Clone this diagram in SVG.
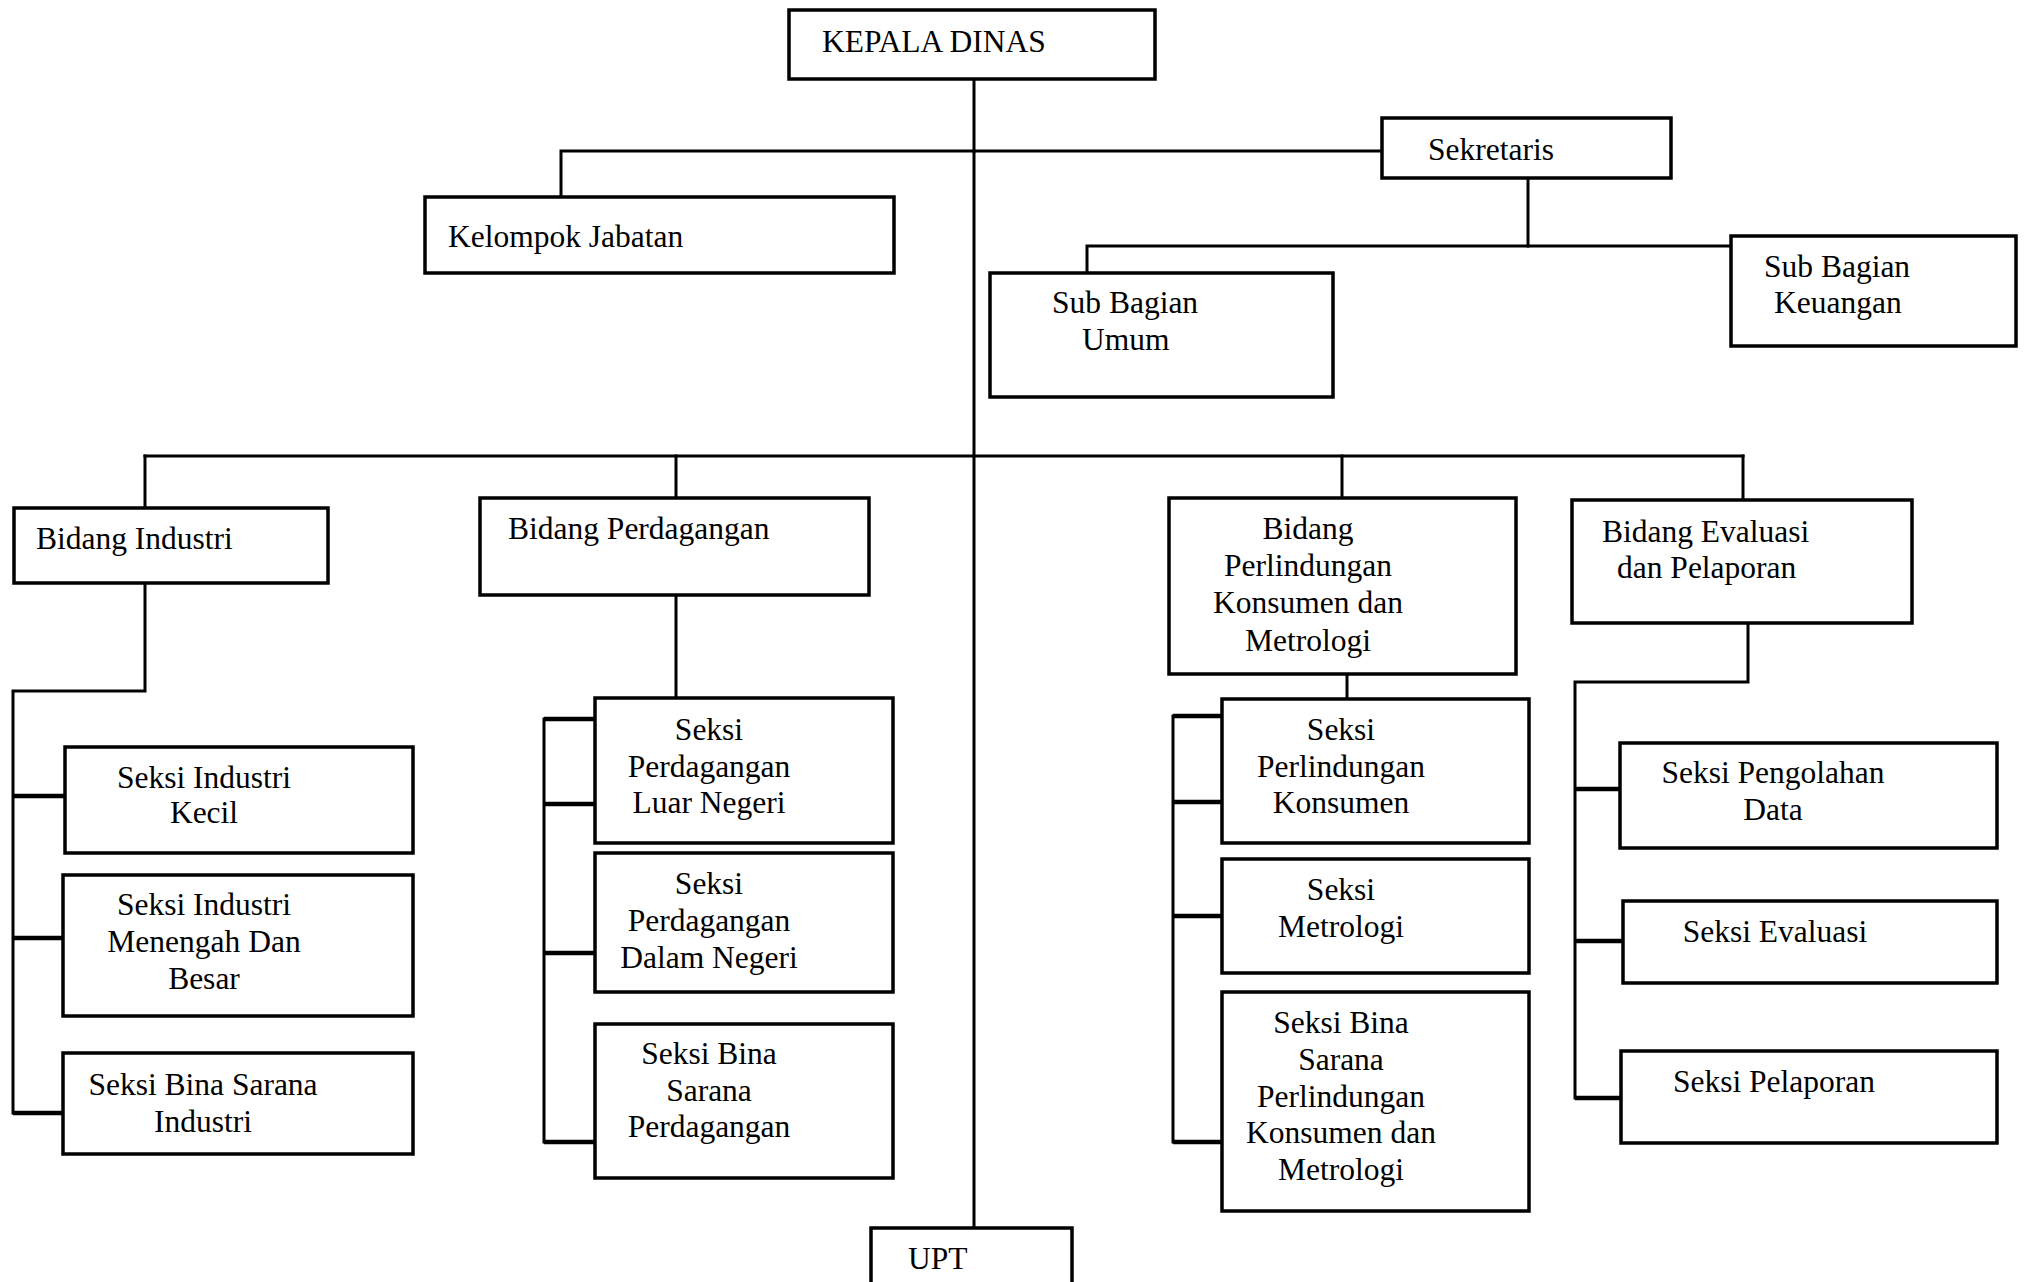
<svg xmlns="http://www.w3.org/2000/svg" width="2026" height="1282" viewBox="0 0 2026 1282">
<style>
.box{fill:#fff;stroke:#000;stroke-width:3.5}
.ln{fill:none;stroke:#000;stroke-width:3;stroke-linecap:square}
.stub{fill:none;stroke:#000;stroke-width:4.5}
text{font-family:"Liberation Serif","Times New Roman",serif;font-size:31.5px;fill:#000}
.c{text-anchor:middle}
</style>
<rect width="2026" height="1282" fill="#fff"/>
<g id="connectors">
<line class="ln" x1="974" y1="79" x2="974" y2="1228"/>
<polyline class="ln" points="974,151 561,151 561,197"/>
<line class="ln" x1="974" y1="151" x2="1382" y2="151"/>
<line class="ln" x1="1528" y1="178" x2="1528" y2="246"/>
<polyline class="ln" points="1731,246 1087,246 1087,273"/>
<line class="ln" x1="145" y1="456" x2="1743" y2="456"/>
<line class="ln" x1="145" y1="456" x2="145" y2="508"/>
<line class="ln" x1="676" y1="456" x2="676" y2="498"/>
<line class="ln" x1="1342" y1="456" x2="1342" y2="498"/>
<line class="ln" x1="1743" y1="456" x2="1743" y2="500"/>
<polyline class="ln" points="145,583 145,691 13,691 13,1113"/>
<line class="stub" x1="13" y1="1113" x2="63" y2="1113"/>
<line class="stub" x1="13" y1="796" x2="65" y2="796"/>
<line class="stub" x1="13" y1="938" x2="63" y2="938"/>
<line class="ln" x1="676" y1="595" x2="676" y2="698"/>
<line class="ln" x1="544" y1="719" x2="544" y2="1142"/>
<line class="stub" x1="544" y1="719" x2="595" y2="719"/>
<line class="stub" x1="544" y1="804" x2="595" y2="804"/>
<line class="stub" x1="544" y1="953" x2="595" y2="953"/>
<line class="stub" x1="544" y1="1142" x2="595" y2="1142"/>
<line class="ln" x1="1347" y1="674" x2="1347" y2="699"/>
<line class="ln" x1="1173" y1="716" x2="1173" y2="1142"/>
<line class="stub" x1="1173" y1="716" x2="1222" y2="716"/>
<line class="stub" x1="1173" y1="802" x2="1222" y2="802"/>
<line class="stub" x1="1173" y1="916" x2="1222" y2="916"/>
<line class="stub" x1="1173" y1="1142" x2="1222" y2="1142"/>
<polyline class="ln" points="1748,623 1748,682 1575,682 1575,1098"/>
<line class="stub" x1="1575" y1="789" x2="1620" y2="789"/>
<line class="stub" x1="1575" y1="941" x2="1623" y2="941"/>
<line class="stub" x1="1575" y1="1098" x2="1621" y2="1098"/>
</g>
<g id="kepala-dinas"><rect class="box" x="789" y="10" width="366" height="69"/><text x="822" y="52">KEPALA DINAS</text></g>
<g id="kelompok-jabatan"><rect class="box" x="425" y="197" width="469" height="76"/><text x="448" y="247">Kelompok Jabatan</text></g>
<g id="sekretaris"><rect class="box" x="1382" y="118" width="289" height="60"/><text x="1428" y="160">Sekretaris</text></g>
<g id="sub-bagian-umum"><rect class="box" x="990" y="273" width="343" height="124"/><text x="1052" y="313">Sub Bagian</text><text x="1082" y="350">Umum</text></g>
<g id="sub-bagian-keuangan"><rect class="box" x="1731" y="236" width="285" height="110"/><text x="1764" y="277">Sub Bagian</text><text x="1774" y="313">Keuangan</text></g>
<g id="bidang-industri"><rect class="box" x="14" y="508" width="314" height="75"/><text x="36" y="549">Bidang Industri</text></g>
<g id="bidang-perdagangan"><rect class="box" x="480" y="498" width="389" height="97"/><text x="508" y="539">Bidang Perdagangan</text></g>
<g id="bidang-pkm"><rect class="box" x="1169" y="498" width="347" height="176"/><text class="c" x="1308" y="539">Bidang</text><text class="c" x="1308" y="576">Perlindungan</text><text class="c" x="1308" y="613">Konsumen dan</text><text class="c" x="1308" y="651">Metrologi</text></g>
<g id="bidang-evaluasi"><rect class="box" x="1572" y="500" width="340" height="123"/><text x="1602" y="542">Bidang Evaluasi</text><text x="1617" y="578">dan Pelaporan</text></g>
<g id="seksi-industri-kecil"><rect class="box" x="65" y="747" width="348" height="106"/><text class="c" x="204" y="788">Seksi Industri</text><text class="c" x="204" y="823">Kecil</text></g>
<g id="seksi-industri-menengah"><rect class="box" x="63" y="875" width="350" height="141"/><text class="c" x="204" y="915">Seksi Industri</text><text class="c" x="204" y="952">Menengah Dan</text><text class="c" x="204" y="989">Besar</text></g>
<g id="seksi-bina-sarana-industri"><rect class="box" x="63" y="1053" width="350" height="101"/><text class="c" x="203" y="1095">Seksi Bina Sarana</text><text class="c" x="203" y="1132">Industri</text></g>
<g id="seksi-perdagangan-luar-negeri"><rect class="box" x="595" y="698" width="298" height="145"/><text class="c" x="709" y="740">Seksi</text><text class="c" x="709" y="777">Perdagangan</text><text class="c" x="709" y="813">Luar Negeri</text></g>
<g id="seksi-perdagangan-dalam-negeri"><rect class="box" x="595" y="853" width="298" height="139"/><text class="c" x="709" y="894">Seksi</text><text class="c" x="709" y="931">Perdagangan</text><text class="c" x="709" y="968">Dalam Negeri</text></g>
<g id="seksi-bina-sarana-perdagangan"><rect class="box" x="595" y="1024" width="298" height="154"/><text class="c" x="709" y="1064">Seksi Bina</text><text class="c" x="709" y="1101">Sarana</text><text class="c" x="709" y="1137">Perdagangan</text></g>
<g id="seksi-perlindungan-konsumen"><rect class="box" x="1222" y="699" width="307" height="144"/><text class="c" x="1341" y="740">Seksi</text><text class="c" x="1341" y="777">Perlindungan</text><text class="c" x="1341" y="813">Konsumen</text></g>
<g id="seksi-metrologi"><rect class="box" x="1222" y="859" width="307" height="114"/><text class="c" x="1341" y="900">Seksi</text><text class="c" x="1341" y="937">Metrologi</text></g>
<g id="seksi-bina-sarana-pkm"><rect class="box" x="1222" y="992" width="307" height="219"/><text class="c" x="1341" y="1033">Seksi Bina</text><text class="c" x="1341" y="1070">Sarana</text><text class="c" x="1341" y="1107">Perlindungan</text><text class="c" x="1341" y="1143">Konsumen dan</text><text class="c" x="1341" y="1180">Metrologi</text></g>
<g id="seksi-pengolahan-data"><rect class="box" x="1620" y="743" width="377" height="105"/><text class="c" x="1773" y="783">Seksi Pengolahan</text><text class="c" x="1773" y="820">Data</text></g>
<g id="seksi-evaluasi"><rect class="box" x="1623" y="901" width="374" height="82"/><text class="c" x="1775" y="942">Seksi Evaluasi</text></g>
<g id="seksi-pelaporan"><rect class="box" x="1621" y="1051" width="376" height="92"/><text class="c" x="1774" y="1092">Seksi Pelaporan</text></g>
<g id="upt"><rect class="box" x="871" y="1228" width="201" height="70"/><text x="908" y="1269">UPT</text></g>
</svg>
